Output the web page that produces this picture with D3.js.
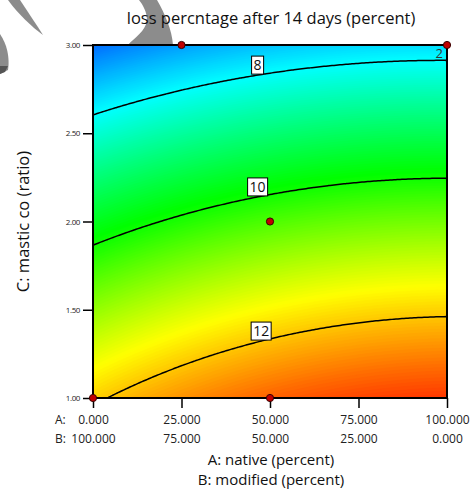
<!DOCTYPE html>
<html>
<head>
<meta charset="utf-8">
<script src="https://cdn.jsdelivr.net/npm/d3@7"></script>
<style>
body { margin: 0; background: #fff; }
text { font-family: "Open Sans", "Noto Sans", sans-serif; }
</style>
</head>
<body>
<svg width="470" height="490"></svg>
<script>
// design points: A native (%), C mastic co (ratio)
const pointA = [0, 25, 50, 50, 100];
const pointC = [1.0, 3.0, 2.0, 1.0, 3.0];
const pointReps = [1, 1, 1, 1, 2];

// contour levels + A position of their labels
const levels = [8, 10, 12];
const labelA = [46.5, 46.5, 47.5];

// fitted surface in coded units u = A/100, v = (C-1)/2
// terms: 1, u, v, uv, u^2, v^2
const coef = [11.92, 2.041, -3.902, -0.15, -0.961, -1.229];

// colour ramp of the response
const rampValues = [5.9, 8.0, 9.9, 11.6, 13.4];
const rampColors = ["#0000ff", "#00ffff", "#00ff00", "#ffff00", "#ff0000"];

const xTicks = [0, 25, 50, 75, 100];
const yTicks = [1.0, 1.5, 2.0, 2.5, 3.0];

const model = (u, v) =>
    coef[0] + coef[1]*u + coef[2]*v + coef[3]*u*v + coef[4]*u*u + coef[5]*v*v;

const render = () => {
    const margin = { top: 45, right: 23, bottom: 92, left: 93 };
    const svg = d3.select('svg');
    const width = +svg.attr('width');
    const height = +svg.attr('height');
    const innerWidth = width - margin.left - margin.right;
    const innerHeight = height - margin.top - margin.bottom;

    const xScale = d3.scaleLinear().domain([0, 100]).range([margin.left, margin.left + innerWidth]);
    const yScale = d3.scaleLinear().domain([1, 3]).range([margin.top + innerHeight, margin.top]);
    const color = d3.scaleLinear().domain(rampValues).range(rampColors).clamp(true);

    // watermark bits in the corner
    const wm = svg.append('g').attr('fill', '#8c8c8c');
    wm.append('path').attr('d', 'M8,0 L20,0 C28,12 36,24 43,35 C32,27 18,14 8,0 Z');
    wm.append('path').attr('d', 'M0,34 C7,44 10,58 8,70 L0,74 Z');
    wm.append('path').attr('d', 'M0,66 L8,66 L5,72 L0,74 Z').attr('fill', '#555');
    wm.append('path').attr('d', 'M139,0 L157,0 C165,14 172,30 173,45 L128,45 C134,38 146,31 147,20 C147,12 143,5 139,0 Z');

    // surface grid
    const nx = 177, ny = 177;
    const values = new Array(nx * ny);
    for (let j = 0; j < ny; j++) {
        for (let i = 0; i < nx; i++) {
            const u = (i + 0.5) / nx;
            const v = 1 - (j + 0.5) / ny;
            values[j * nx + i] = model(u, v);
        }
    }
    const proj = d3.geoTransform({
        point: function(x, y) {
            this.stream.point(margin.left + x * innerWidth / nx, margin.top + y * innerHeight / ny);
        }
    });
    const path = d3.geoPath(proj);

    svg.append('clipPath').attr('id', 'plotclip')
        .append('rect')
        .attr('x', margin.left).attr('y', margin.top)
        .attr('width', innerWidth).attr('height', innerHeight);

    const step = 0.04;
    const bands = d3.range(6.0, 13.6, step);
    const plot = svg.append('g').attr('clip-path', 'url(#plotclip)');
    plot.selectAll('path.band')
        .data(d3.contours().size([nx, ny]).thresholds(bands)(values))
        .enter().append('path')
        .attr('class', 'band')
        .attr('d', path)
        .attr('fill', d => color(d.value + step / 2))
        .attr('stroke', d => color(d.value + step / 2))
        .attr('stroke-width', 0.5);

    plot.selectAll('path.level')
        .data(d3.contours().size([nx, ny]).thresholds(levels)(values))
        .enter().append('path')
        .attr('class', 'level')
        .attr('d', path)
        .attr('fill', 'none')
        .attr('stroke', '#000')
        .attr('stroke-width', 1.5);

    // frame
    svg.append('rect')
        .attr('x', margin.left).attr('y', margin.top)
        .attr('width', innerWidth).attr('height', innerHeight)
        .attr('fill', 'none').attr('stroke', '#000').attr('stroke-width', 2);

    // contour labels
    levels.forEach((L, k) => {
        const u = labelA[k] / 100;
        let lo = 0, hi = 1;
        for (let it = 0; it < 40; it++) {
            const mid = (lo + hi) / 2;
            if (model(u, mid) > L) lo = mid; else hi = mid;
        }
        const cx = xScale(labelA[k]);
        const cy = yScale(1 + 2 * lo) - 10;
        const g = svg.append('g');
        const r = g.append('rect').attr('fill', '#fff').attr('stroke', '#000').attr('stroke-width', 1);
        const t = g.append('text').attr('x', cx).attr('y', cy + 5)
            .attr('text-anchor', 'middle').attr('font-size', 14).attr('fill', '#111').text(L);
        const bb = t.node().getBBox();
        r.attr('x', bb.x - 2).attr('y', cy - 9).attr('width', bb.width + 4).attr('height', 18);
    });

    // y axis
    const yAxis = d3.axisLeft(yScale).tickValues(yTicks).tickSize(9).tickPadding(3)
        .tickFormat(d3.format('.2f'));
    const yg = svg.append('g').attr('transform', `translate(${margin.left - 1},0)`).call(yAxis);
    yg.select('.domain').remove();
    yg.selectAll('line').attr('stroke', '#000').attr('stroke-width', 1.5);
    yg.selectAll('text').attr('font-size', 8).attr('letter-spacing', -0.4)
        .attr('fill', '#222').attr('font-family', '"Open Sans", "Noto Sans", sans-serif');

    // x axis, A on top row and B underneath
    const xAxis = d3.axisBottom(xScale).tickValues(xTicks).tickSize(10).tickPadding(0)
        .tickFormat(d3.format('.3f'));
    const xg = svg.append('g').attr('transform', `translate(0,${margin.top + innerHeight})`).call(xAxis);
    xg.select('.domain').remove();
    xg.selectAll('line').attr('stroke', '#000').attr('stroke-width', 1.5);
    xg.selectAll('.tick text').attr('y', 26).attr('dy', null)
        .attr('font-size', 12).attr('fill', '#222')
        .attr('font-family', '"Open Sans", "Noto Sans", sans-serif');
    xg.selectAll('.tick').append('text')
        .attr('y', 45).attr('fill', '#222').attr('font-size', 12)
        .attr('font-family', '"Open Sans", "Noto Sans", sans-serif')
        .attr('text-anchor', 'middle')
        .text(d => d3.format('.3f')(100 - d));
    svg.append('text').attr('x', 55).attr('y', 424).attr('font-size', 12).attr('fill', '#222').text('A:');
    svg.append('text').attr('x', 55).attr('y', 443).attr('font-size', 12).attr('fill', '#222').text('B:');

    // titles
    svg.append('text').attr('x', 271).attr('y', 24).attr('text-anchor', 'middle')
        .attr('font-size', 16.5).attr('fill', '#111').text('loss percntage after 14 days (percent)');
    svg.append('text').attr('x', 271).attr('y', 465).attr('text-anchor', 'middle')
        .attr('font-size', 15).attr('fill', '#111').text('A: native (percent)');
    svg.append('text').attr('x', 271).attr('y', 485).attr('text-anchor', 'middle')
        .attr('font-size', 15).attr('fill', '#111').text('B: modified (percent)');
    svg.append('text').attr('transform', `translate(29,${margin.top + innerHeight / 2}) rotate(-90)`)
        .attr('text-anchor', 'middle').attr('font-size', 16.5).attr('fill', '#111')
        .text('C: mastic co (ratio)');

    // design points
    svg.selectAll('circle.pt').data(pointA).enter().append('circle')
        .attr('class', 'pt')
        .attr('cx', d => xScale(d))
        .attr('cy', (d, i) => yScale(pointC[i]))
        .attr('r', 3.6)
        .attr('fill', '#c00000')
        .attr('stroke', '#3a0000').attr('stroke-width', 1);
    pointA.forEach((a, i) => {
        if (pointReps[i] > 1) {
            svg.append('text').attr('x', xScale(a) - 4).attr('y', yScale(pointC[i]) + 13)
                .attr('text-anchor', 'end').attr('font-size', 13).attr('fill', '#333')
                .text(pointReps[i]);
        }
    });
};

render();
</script>
</body>
</html>
